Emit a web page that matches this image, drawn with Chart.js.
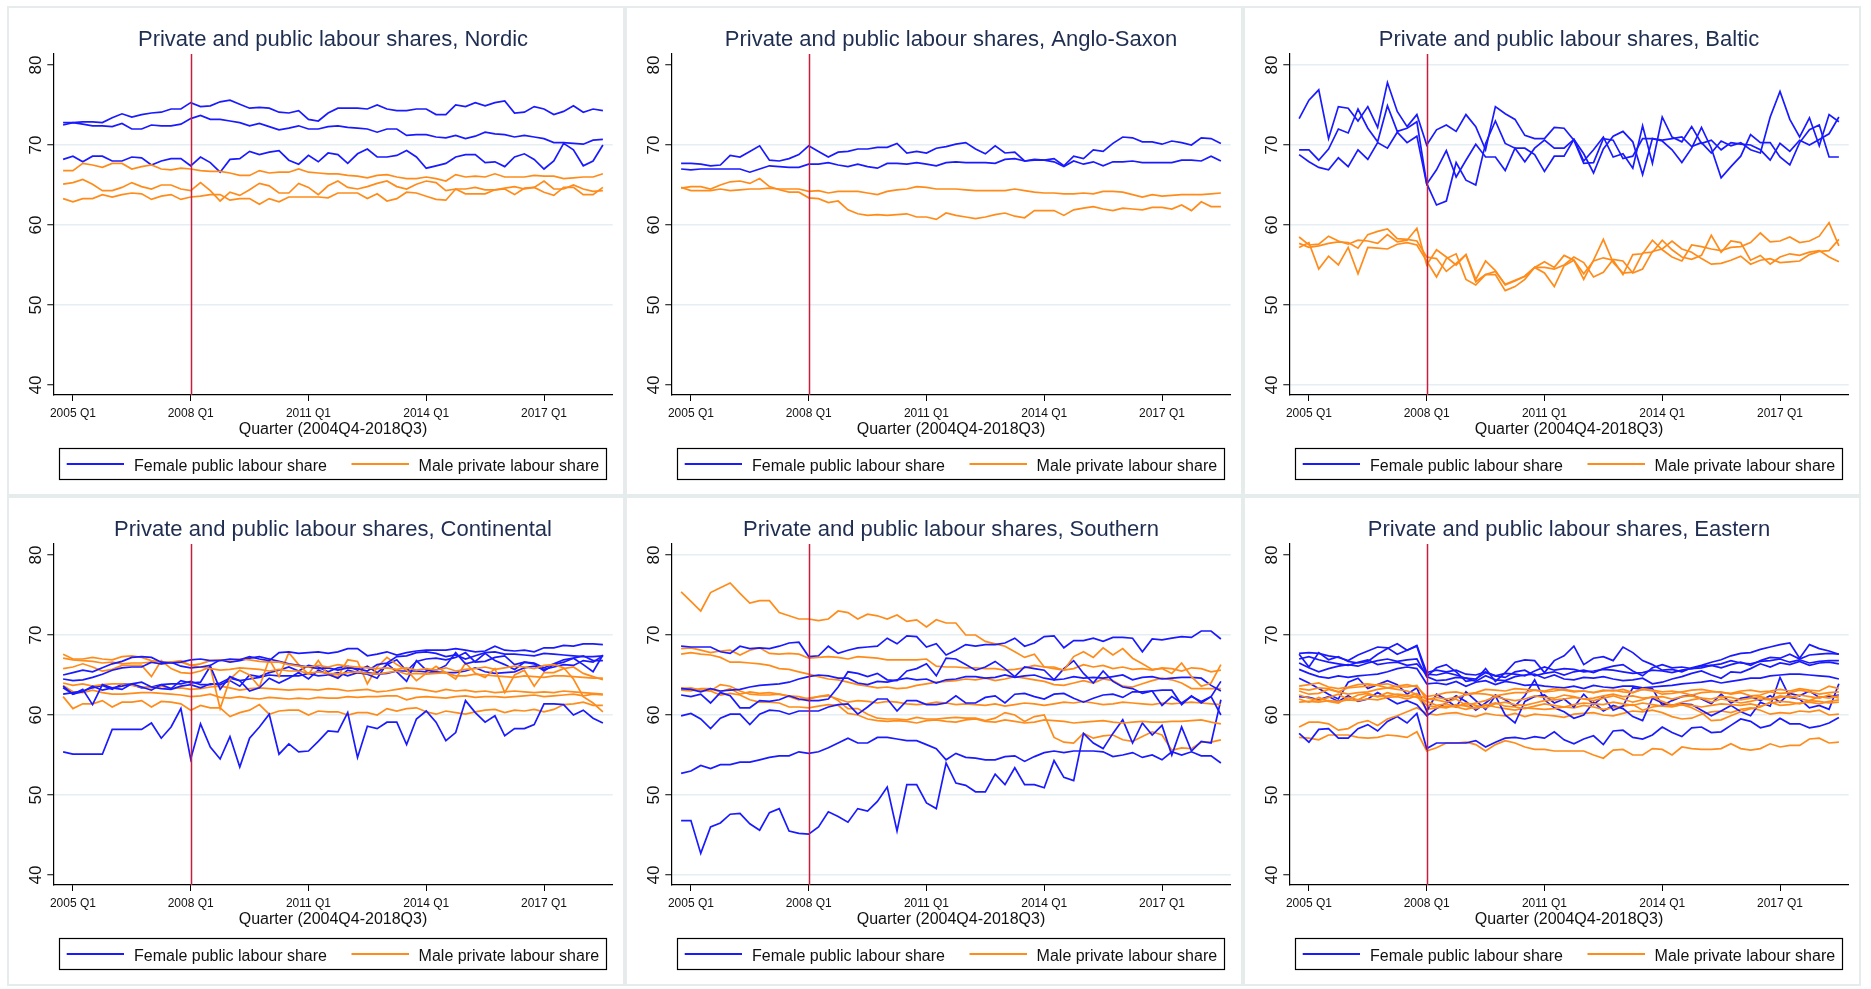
<!DOCTYPE html>
<html>
<head>
<meta charset="utf-8">
<script src="https://cdn.jsdelivr.net/npm/chart.js@4.4.0/dist/chart.umd.min.js"></script>
<style>
  html, body { margin: 0; padding: 0; background: #ffffff; }
  body { width: 1871px; height: 989px; position: relative; overflow: hidden; }
  canvas { position: absolute; }
</style>
</head>
<body>
<canvas id="p0" width="618" height="490" style="left:7px;top:6px"></canvas>
<canvas id="p1" width="618" height="490" style="left:625px;top:6px"></canvas>
<canvas id="p2" width="618" height="490" style="left:1243px;top:6px"></canvas>
<canvas id="p3" width="618" height="490" style="left:7px;top:496px"></canvas>
<canvas id="p4" width="618" height="490" style="left:625px;top:496px"></canvas>
<canvas id="p5" width="618" height="490" style="left:1243px;top:496px"></canvas>
<script>
// Quarter index 0 = 2004Q4 ... 55 = 2018Q3
const xTickQuarters = [1, 13, 25, 37, 49];
const xTickLabels = ['2005 Q1', '2008 Q1', '2011 Q1', '2014 Q1', '2017 Q1'];
const yTicks = [40, 50, 60, 70, 80];
const crisisQuarter = 13; // 2008 Q1
const xAxisTitle = 'Quarter (2004Q4-2018Q3)';
const legendLabels = ['Female public labour share', 'Male private labour share'];

// ---- Nordic ----
const nordicF1 = [72.8,72.8,72.9,72.9,72.8,73.4,73.9,73.5,73.8,74.0,74.1,74.5,74.5,75.3,74.8,74.9,75.4,75.6,75.1,74.6,74.7,74.6,74.1,74.0,74.3,73.2,73.0,74.0,74.6,74.6,74.6,74.5,75.0,74.5,74.3,74.3,74.5,74.5,73.8,73.8,75.0,74.8,75.3,74.9,75.3,75.5,74.0,74.1,74.8,74.5,73.8,74.2,74.9,74.1,74.5,74.3];
const nordicF2 = [72.5,72.8,72.6,72.4,72.4,72.3,72.7,72.0,72.0,72.5,72.4,72.4,72.6,73.3,73.7,73.2,73.2,73.0,72.8,72.4,72.7,72.3,71.9,72.1,72.4,72.0,72.0,72.3,72.4,72.2,72.1,72.0,71.6,72.0,72.0,71.2,71.3,71.3,71.0,70.9,71.2,70.8,71.1,71.6,71.4,71.3,71.0,71.2,71.0,70.8,70.3,70.3,70.2,70.1,70.6,70.7];
const nordicF3 = [68.2,68.6,67.9,68.6,68.6,68.0,68.0,68.5,68.4,67.5,68.0,68.3,68.3,67.4,68.5,67.8,66.6,68.2,68.3,69.2,68.8,69.1,69.3,68.1,67.6,68.7,67.9,69.0,68.8,67.7,68.9,69.5,68.5,68.5,68.7,69.3,68.5,67.1,67.4,67.7,68.5,68.8,68.8,67.8,67.9,67.3,68.5,68.9,68.2,67.0,68.0,70.2,69.4,67.4,68.0,70.0];
const nordicM1 = [66.8,66.8,67.7,67.5,67.2,67.7,67.7,67.0,67.3,67.5,67.0,66.9,67.1,67.0,66.8,66.7,66.7,66.5,66.2,66.2,66.8,66.5,66.6,66.6,67.0,66.6,66.5,66.4,66.4,66.2,66.1,65.9,66.2,66.3,66.0,65.8,65.8,66.0,65.8,65.5,66.3,66.0,66.1,66.0,66.4,66.0,66.0,66.0,66.2,66.1,66.1,65.8,65.9,66.0,66.0,66.4];
const nordicM2 = [65.1,65.3,65.7,65.1,64.3,64.3,64.7,65.3,64.8,64.5,65.0,65.0,64.5,64.3,65.3,64.3,63.0,64.1,63.7,64.4,65.2,64.9,64.0,64.0,65.2,64.7,63.8,64.9,65.5,64.7,64.5,64.8,65.2,65.5,64.8,64.5,65.1,65.5,65.3,64.3,64.5,64.5,64.7,64.4,64.4,64.6,64.8,64.5,64.7,65.5,64.5,64.5,65.0,64.5,64.2,64.3];
const nordicM3 = [63.3,62.9,63.3,63.3,63.8,63.5,63.8,64.0,63.9,63.2,63.6,63.8,63.2,63.5,63.6,63.8,63.8,63.1,63.3,63.3,62.6,63.3,62.9,63.5,63.5,63.5,63.5,63.4,64.0,64.0,64.0,63.3,63.9,63.0,63.3,64.1,64.0,63.6,63.2,63.1,64.5,63.9,63.9,63.9,64.4,64.5,63.8,64.6,64.7,64.1,63.7,64.7,64.7,63.8,63.8,64.7];

// ---- Anglo-Saxon ----
const angloF1 = [67.7,67.7,67.6,67.4,67.5,68.7,68.5,69.2,69.9,68.1,68.0,68.3,68.8,69.9,69.2,68.5,69.1,69.2,69.5,69.5,69.7,69.7,70.2,69.0,69.2,69.0,69.6,69.8,70.1,70.3,69.5,68.9,69.9,69.0,69.1,68.0,68.2,68.1,68.3,67.4,68.6,68.3,69.4,69.2,70.2,71.0,70.9,70.4,70.4,70.1,70.5,70.3,70.0,70.9,70.8,70.2];
const angloF2 = [67.0,66.9,67.0,67.0,67.0,67.0,67.0,66.6,67.0,67.4,67.3,67.2,67.2,67.6,67.6,67.8,67.5,67.3,67.6,67.3,67.1,67.7,67.7,67.6,67.8,67.6,67.4,67.8,67.9,67.8,67.8,67.8,67.7,68.2,68.3,68.0,68.1,68.1,67.9,67.3,68.0,67.6,67.9,67.4,67.9,67.9,68.0,67.8,67.8,67.8,67.8,68.1,68.1,68.0,68.6,68.0];
const angloM1 = [64.7,64.3,64.3,64.3,64.5,64.3,64.4,64.5,64.5,64.6,64.5,64.5,64.5,64.2,64.3,64.0,64.2,64.2,64.2,64.0,63.8,64.2,64.4,64.5,64.8,64.7,64.5,64.5,64.5,64.4,64.3,64.3,64.3,64.3,64.5,64.3,64.1,64.0,64.0,63.9,63.9,64.0,63.9,64.2,64.2,64.1,63.8,63.5,63.8,63.6,63.7,63.8,63.8,63.8,63.9,64.0];
const angloM2 = [64.6,64.8,64.8,64.5,65.0,65.4,65.5,65.2,65.8,64.8,64.4,64.1,64.1,63.4,63.3,62.8,63.0,61.9,61.4,61.2,61.3,61.2,61.3,61.4,61.0,61.0,60.7,61.5,61.2,61.0,60.8,61.0,61.3,61.5,61.1,60.9,61.8,61.8,61.8,61.2,61.9,62.1,62.3,62.0,61.8,62.1,62.0,61.9,62.2,62.2,62.0,62.5,61.8,62.9,62.3,62.3];

// ---- Baltic ----
const balticF1 = [73.3,75.6,76.9,70.8,74.8,74.6,73.0,74.8,72.2,77.8,74.2,72.3,73.8,70.0,71.9,72.5,71.7,73.8,72.3,69.4,74.8,73.9,73.2,71.2,70.8,70.8,72.2,72.1,70.6,67.7,67.8,70.8,70.6,68.3,68.6,70.8,70.8,70.6,70.8,71.0,69.8,70.3,69.0,70.5,69.9,70.3,69.4,69.0,73.5,76.7,73.2,71.0,73.4,69.9,73.8,72.9];
const balticF2 = [69.4,69.4,68.1,69.5,72.0,71.5,74.5,72.1,70.4,74.9,71.7,72.1,72.9,65.2,62.5,63.0,67.8,65.6,65.0,70.2,73.0,70.2,69.6,69.6,68.8,66.7,68.6,68.6,70.7,68.9,66.5,69.5,71.1,71.7,70.4,66.3,70.8,70.5,69.4,67.8,69.6,72.2,69.6,65.9,67.3,68.6,71.3,70.3,70.3,68.5,67.5,70.3,71.9,72.5,68.5,68.5];
const balticF3 = [68.8,67.9,67.2,66.9,68.4,67.3,69.4,68.2,70.3,69.6,71.6,70.3,71.1,65.1,66.9,69.3,66.0,68.1,70.1,68.5,68.5,66.8,69.6,67.9,69.6,70.6,69.6,69.6,70.7,68.0,69.4,71.0,68.5,68.9,67.1,72.4,67.7,73.5,71.0,70.4,72.3,70.2,70.6,69.4,70.3,70.1,70.0,69.4,68.1,70.2,69.2,70.6,70.0,70.7,71.4,73.5];
const balticM1 = [58.5,57.5,57.6,58.6,58.0,57.6,58.1,58.0,57.7,58.8,57.9,58.1,59.6,55.0,56.9,56.0,55.0,56.3,53.2,55.5,54.3,52.5,53.0,53.6,54.7,54.7,54.5,55.0,56.0,55.3,53.5,54.1,55.7,55.5,54.0,54.5,56.7,57.0,58.0,57.0,56.6,55.8,55.1,55.2,55.6,56.1,55.1,55.6,55.8,55.3,55.4,55.5,56.3,56.7,56.8,58.2];
const balticM2 = [57.2,57.8,54.5,56.1,55.0,57.2,53.9,57.2,57.1,57.0,57.6,57.8,57.5,55.5,53.5,55.8,56.4,53.2,52.5,53.8,53.8,51.8,52.3,53.2,54.7,54.0,52.3,54.9,55.6,53.2,55.6,58.2,55.3,54.0,54.1,56.5,56.6,58.1,56.9,56.0,55.7,56.2,58.7,56.6,58.0,57.8,55.6,56.2,55.1,56.0,56.4,56.2,56.6,56.8,56.0,55.4];
const balticM3 = [57.7,57.2,57.4,57.7,57.9,57.8,57.1,58.8,59.2,59.5,58.3,58.2,58.0,56.0,55.8,54.2,55.2,56.3,52.9,53.8,54.2,52.6,53.1,53.6,54.7,55.4,54.7,56.2,55.6,53.9,55.5,55.9,55.6,53.8,56.3,56.4,58.1,56.9,56.0,55.5,57.5,57.3,57.0,56.8,57.2,57.3,57.8,59.0,57.9,58.0,58.5,57.8,58.0,58.6,60.3,57.4];

// ---- Continental ----
const contF1 = [65.0,65.3,65.6,65.4,65.9,66.4,66.7,67.2,67.3,67.2,66.6,66.5,66.6,66.9,67.0,66.8,66.8,67.0,66.9,67.3,67.0,66.8,67.8,67.9,67.7,67.8,67.9,67.7,67.9,68.3,68.3,67.4,67.6,67.9,67.5,67.8,68.0,68.1,68.1,68.1,68.3,68.1,67.9,68.0,68.6,68.1,68.0,68.1,67.9,68.4,68.4,68.7,68.6,68.9,68.9,68.8];
const contF2 = [64.5,64.3,64.4,64.7,65.1,65.6,65.9,66.0,66.0,66.6,66.4,66.6,66.1,65.9,66.0,66.2,66.9,66.6,66.8,67.1,67.3,67.0,66.7,66.4,66.2,66.0,65.8,65.9,65.6,65.9,65.8,65.5,66.3,66.5,67.3,67.4,67.8,67.9,67.7,67.3,67.5,67.0,67.4,67.8,67.9,67.6,67.6,67.5,67.4,67.7,67.6,67.5,67.4,67.3,67.3,67.4];
const contF3 = [63.6,62.6,63.2,61.3,63.8,63.4,63.6,63.9,63.5,63.1,63.8,63.3,64.3,64.0,64.1,66.1,63.2,64.8,64.3,63.0,63.4,64.6,64.0,64.6,65.3,64.5,65.6,65.1,64.6,65.6,65.3,65.1,64.6,66.4,65.4,64.2,66.8,65.6,65.6,66.2,67.8,66.4,66.7,67.7,66.8,66.3,65.7,66.6,66.4,65.5,66.3,66.6,67.1,66.3,65.4,67.5];
const contF4 = [63.4,62.6,62.9,63.6,63.1,63.4,63.2,63.9,64.1,63.5,63.3,63.2,63.6,63.8,63.4,63.9,63.8,64.3,63.6,65.0,64.8,65.3,65.6,66.0,65.5,66.2,66.0,65.4,65.9,66.1,65.6,66.1,65.3,66.3,66.9,65.5,66.7,67.0,67.1,66.9,67.2,67.8,66.6,66.7,67.2,67.4,66.3,66.6,66.5,65.9,66.4,66.9,67.1,67.4,66.8,66.8];
const contF5 = [62.6,62.8,63.0,63.4,63.7,63.2,63.9,63.8,63.4,63.5,63.8,63.9,63.9,64.2,63.8,63.8,64.0,64.6,64.3,64.5,64.7,65.0,64.9,64.9,64.9,65.2,64.9,65.0,65.3,64.9,65.3,65.3,65.1,65.2,65.5,65.5,65.5,65.4,65.4,65.3,65.3,65.5,65.9,65.4,65.2,65.3,65.4,65.9,66.1,65.7,66.0,66.3,66.2,66.8,66.6,67.4];
const contF6 = [55.4,55.1,55.1,55.1,55.1,58.2,58.2,58.2,58.2,59.0,57.1,58.5,60.8,54.5,58.9,56.0,54.5,57.3,53.5,57.1,58.5,60.1,55.1,56.4,55.4,55.5,56.7,58.0,57.9,60.3,54.7,58.6,58.3,59.1,59.1,56.3,59.5,60.5,59.1,56.8,57.8,61.8,60.3,59.1,59.9,57.4,58.3,58.3,58.8,61.4,61.4,61.3,60.0,60.6,59.6,59.0];
const contM1 = [67.6,67.0,67.0,67.2,67.0,66.9,67.3,67.4,67.2,66.8,66.6,66.6,66.8,66.2,66.4,66.8,66.9,66.9,67.0,66.9,66.7,66.6,66.6,66.3,66.1,66.0,66.2,66.0,66.3,66.1,66.0,65.9,65.8,65.9,65.7,65.9,65.6,65.8,65.6,65.9,65.5,65.7,65.8,66.0,65.7,65.9,66.1,66.0,65.8,66.2,66.3,65.9,64.5,62.3,61.5,60.4];
const contM2 = [67.1,66.9,66.8,66.7,66.5,66.6,66.4,66.5,66.5,66.6,66.4,66.5,66.6,66.2,66.0,65.8,65.6,65.7,65.9,65.8,65.7,65.5,65.7,65.5,65.5,65.2,65.4,65.2,65.1,65.3,65.4,65.2,65.1,65.3,65.5,65.1,65.2,65.1,65.2,65.3,64.9,64.9,65.1,65.0,64.9,64.8,64.7,64.9,64.8,64.7,64.9,64.9,64.8,64.7,64.6,64.6];
const contM3 = [65.8,66.0,66.4,66.0,65.5,65.7,66.2,66.2,66.2,64.8,66.8,65.8,65.3,65.2,65.5,66.0,60.8,64.5,65.6,65.0,63.5,67.0,64.8,67.8,66.3,65.1,66.8,65.0,64.8,66.9,66.7,63.9,66.0,67.2,66.3,65.6,64.3,65.2,66.1,65.3,64.5,66.5,65.2,64.7,65.8,62.8,65.0,65.6,63.6,65.3,65.3,65.8,66.0,65.2,64.8,64.4];
const contM4 = [64.0,63.7,63.9,63.6,63.8,63.9,63.9,63.7,63.5,63.4,63.6,63.3,63.4,63.2,63.3,63.5,63.6,63.4,63.1,63.3,63.4,63.3,63.2,63.1,63.2,63.2,63.1,63.3,63.2,63.0,63.1,63.2,62.9,63.0,63.2,63.4,63.3,63.1,62.9,63.2,63.0,63.1,62.9,63.0,62.8,62.9,63.0,62.9,62.8,62.9,62.8,63.0,62.9,62.8,62.7,62.6];
const contM5 = [63.7,62.9,62.8,63.1,62.8,62.6,62.6,62.7,62.8,62.8,62.7,62.6,62.5,62.3,62.4,62.6,62.2,62.1,62.3,62.1,62.0,62.2,62.1,62.0,62.1,62.0,62.2,62.1,62.1,62.3,62.2,62.3,62.3,62.4,62.4,61.9,62.2,62.3,62.2,62.1,62.3,62.4,62.2,62.3,62.3,62.2,62.3,62.4,62.5,62.3,62.4,62.5,62.6,62.4,62.6,62.5];
const contM6 = [62.3,60.8,61.4,61.4,61.8,61.0,61.6,61.6,61.8,61.0,61.7,61.6,61.4,60.6,61.2,60.9,60.9,59.8,60.3,60.6,61.3,60.1,60.5,60.6,60.6,60.0,60.5,60.4,60.4,60.0,60.3,60.3,60.0,60.8,60.5,60.8,60.9,60.4,60.1,60.5,60.3,60.1,60.4,60.6,60.7,60.3,60.6,60.5,60.7,60.4,60.7,61.3,61.4,61.6,61.2,61.2];

// ---- Southern ----
const southF1 = [68.6,68.5,68.5,68.5,67.9,67.7,68.6,68.3,68.4,68.3,68.6,69.0,69.1,67.3,67.4,68.6,67.7,68.1,68.4,68.5,68.6,69.6,68.9,69.9,69.8,68.5,68.9,67.5,68.1,68.8,68.6,68.8,68.8,69.0,69.6,68.6,69.0,69.8,69.9,68.4,69.3,69.3,69.6,69.2,69.7,69.7,69.6,67.9,69.5,69.4,69.6,69.8,69.7,70.5,70.5,69.5];
const southF2 = [62.5,62.3,62.6,61.5,62.8,62.4,60.9,60.9,61.8,61.7,61.9,62.4,62.0,61.8,61.8,62.0,63.5,65.4,65.2,64.8,65.2,64.4,64.3,65.5,65.8,66.4,64.9,67.1,67.0,66.3,65.6,66.0,66.7,65.8,64.8,66.0,65.8,65.6,64.4,65.8,66.8,65.2,64.0,65.5,64.2,63.5,63.3,62.7,63.0,63.1,63.1,61.3,62.4,61.5,62.3,64.2];
const southF3 = [63.3,63.2,62.9,63.3,63.0,63.1,63.2,63.5,63.7,63.8,63.9,64.1,64.5,64.8,65.0,64.9,64.6,64.6,64.0,63.8,64.2,64.1,64.4,64.6,64.4,64.5,64.0,64.4,64.5,64.8,64.8,64.6,64.7,65.0,64.7,64.9,65.0,64.6,64.4,64.5,64.8,64.6,64.7,64.6,64.8,65.0,64.4,64.7,64.8,64.5,64.6,64.7,64.7,64.6,63.7,63.0];
const southF4 = [59.9,60.2,59.5,58.3,59.6,60.1,60.1,58.8,60.1,60.6,60.5,60.1,60.5,60.5,60.5,61.0,61.3,61.4,60.1,61.0,62.0,62.0,60.5,61.8,61.8,61.3,61.3,61.5,62.4,61.5,61.5,62.2,62.4,61.5,62.6,62.7,62.3,62.0,62.6,62.7,62.1,61.6,62.1,62.5,62.6,62.2,62.9,62.9,63.0,61.2,62.3,61.5,62.3,61.7,62.3,60.0];
const southF5 = [52.7,53.0,53.7,53.3,53.8,53.8,54.1,54.1,54.4,54.7,54.9,54.9,55.4,55.2,55.4,55.9,56.5,57.1,56.5,56.5,57.2,57.2,57.0,56.8,56.8,56.3,55.8,54.4,55.2,54.7,54.6,54.4,54.4,54.8,54.9,54.2,54.8,55.3,55.5,55.3,55.5,55.5,55.5,55.4,54.8,55.0,55.3,54.7,55.0,54.4,55.4,55.0,55.4,54.9,54.9,54.0];
const southF6 = [46.8,46.8,42.7,46.0,46.5,47.6,47.7,46.4,45.6,47.8,48.3,45.5,45.2,45.1,46.0,47.9,47.3,46.6,48.3,48.0,49.2,51.0,45.5,51.3,51.3,49.0,48.3,54.0,51.5,51.2,50.4,50.4,52.6,51.3,53.4,51.3,51.3,50.9,54.3,52.2,51.8,57.7,56.5,55.8,57.7,59.4,56.5,59.0,57.5,58.7,55.0,58.5,55.5,56.7,56.5,61.9];
const southM1 = [75.4,74.2,73.0,75.3,75.9,76.5,75.2,74.0,74.3,74.3,72.8,72.4,72.0,72.0,71.8,72.0,73.0,72.8,72.0,72.6,72.4,72.0,72.5,71.7,71.9,71.0,71.9,71.5,71.5,70.0,70.0,69.2,68.9,68.6,67.9,67.2,67.6,66.0,66.0,65.6,67.3,67.9,67.2,68.4,67.5,68.3,67.1,66.4,65.7,65.8,65.2,66.5,64.8,63.6,64.0,66.3];
const southM2 = [68.3,68.4,68.1,67.8,68.0,68.1,67.5,68.1,68.4,67.7,67.6,67.7,67.6,67.1,67.2,67.3,67.2,67.0,67.3,67.2,67.1,66.9,66.9,66.9,66.9,67.0,66.1,66.0,66.0,65.9,65.9,65.8,65.8,65.6,65.7,65.9,66.2,66.0,65.8,65.6,65.8,66.3,66.0,66.2,65.8,66.0,65.7,65.8,65.6,65.9,65.8,65.5,65.9,65.8,65.4,65.6];
const southM3 = [67.6,67.8,67.6,67.5,67.2,66.6,66.6,66.5,66.4,66.2,65.8,65.7,65.4,65.1,64.8,64.5,64.4,64.1,63.8,63.6,63.4,63.5,63.3,63.4,63.7,63.9,64.1,64.2,64.3,64.5,64.4,64.6,64.3,64.5,64.8,64.6,64.4,64.2,63.8,63.7,64.0,64.3,64.0,64.5,64.3,63.6,63.5,63.9,64.3,64.6,64.4,64.0,63.3,63.3,63.3,63.3];
const southM4 = [63.2,63.4,63.1,63.0,63.8,63.6,63.0,62.6,62.5,62.5,62.6,62.3,61.9,62.1,62.3,62.4,62.0,61.6,61.8,61.7,61.5,61.7,61.6,61.4,61.3,61.4,61.6,61.5,61.3,61.4,61.3,61.2,61.4,61.1,61.3,61.5,61.4,61.2,61.4,61.6,61.5,61.7,61.5,61.3,61.4,61.6,61.5,61.4,61.3,61.5,61.4,61.5,61.6,61.5,61.4,61.3];
const southM5 = [63.4,63.3,63.1,63.0,62.5,62.7,62.5,61.9,61.6,61.6,61.5,61.0,61.0,60.9,61.1,61.3,61.2,60.2,60.0,59.5,59.3,59.2,59.3,59.2,59.0,59.3,59.4,59.2,59.1,59.4,59.5,59.2,59.1,59.4,59.2,59.0,59.1,59.4,59.3,59.2,59.0,59.1,59.2,59.3,59.1,59.0,59.1,59.2,59.1,59.1,59.2,59.2,59.3,59.4,59.1,58.9];
const southM6 = [63.1,63.0,63.3,63.3,62.9,63.3,62.6,62.9,62.7,62.8,62.6,62.4,62.3,62.0,62.3,62.5,61.8,60.8,60.8,60.1,59.6,59.5,59.5,59.4,59.7,59.5,59.5,59.6,59.7,59.6,59.6,59.3,59.6,60.3,60.0,59.2,59.8,60.0,57.2,56.6,56.5,57.7,57.1,57.4,57.5,56.9,56.7,57.3,57.9,57.5,55.6,55.9,55.8,56.6,56.6,56.9];

// ---- Eastern ----
const eastF1 = [67.7,67.8,67.7,67.4,67.2,66.8,67.5,68.0,68.5,68.4,67.6,68.1,68.7,65.3,65.6,65.4,65.6,65.1,65.0,65.4,64.9,65.2,65.1,64.9,65.5,66.0,65.6,65.8,65.7,65.4,65.5,65.7,65.6,65.4,65.2,65.3,65.6,65.5,65.3,65.6,65.8,66.1,66.2,65.9,66.3,66.6,66.2,66.8,67.2,67.1,67.6,67.0,67.5,67.6,67.7,67.6];
const eastF2 = [67.6,66.0,67.8,66.9,67.3,66.7,66.5,66.7,67.6,68.3,68.9,68.1,68.6,64.8,65.9,66.3,65.4,64.2,64.4,65.8,64.2,65.3,66.6,66.9,66.8,65.3,66.8,67.4,68.6,66.3,67.1,67.3,66.8,68.5,67.8,66.8,66.3,65.6,65.7,65.4,65.9,66.2,66.6,66.9,67.4,67.7,67.8,68.2,68.5,68.8,69.0,67.1,68.8,68.3,68.0,67.6];
const eastF3 = [67.0,67.3,66.9,66.6,66.4,66.2,66.6,66.9,66.3,66.5,66.6,66.2,66.4,65.1,65.0,65.3,65.0,64.6,64.5,65.3,64.9,64.7,65.4,65.6,64.9,65.2,65.4,65.0,65.4,65.6,65.3,65.8,66.1,66.3,65.5,64.9,65.9,66.3,65.9,66.0,65.8,65.9,66.2,66.4,66.8,66.5,66.4,66.7,66.8,67.0,66.6,66.9,66.5,66.7,66.8,66.8];
const eastF4 = [66.5,65.9,65.4,65.8,66.1,66.3,66.1,66.5,66.8,67.0,66.7,66.9,67.0,64.8,64.3,64.4,64.7,64.6,64.2,64.9,64.4,64.3,64.8,65.0,65.1,64.6,65.0,64.5,64.4,64.7,64.6,64.8,64.5,64.3,64.4,64.6,63.9,64.1,64.5,64.8,65.2,65.5,65.0,64.6,65.4,65.3,65.8,66.4,66.0,66.5,66.3,66.7,66.2,66.5,66.6,66.4];
const eastF5 = [65.7,65.2,64.8,64.6,64.9,64.7,64.9,65.0,65.1,65.4,65.8,66.0,65.8,63.9,64.0,63.8,64.2,63.6,64.1,64.3,63.8,64.2,64.0,63.7,63.8,63.6,63.5,63.4,63.6,63.3,63.7,63.5,63.4,63.6,63.6,63.4,63.5,63.6,63.7,63.9,64.0,64.1,64.3,64.0,64.2,64.4,64.6,64.6,64.9,65.0,65.1,65.1,65.0,64.9,64.8,64.5];
const eastF6 = [64.6,64.0,63.3,62.6,62.0,64.1,64.6,63.3,63.8,64.3,63.8,62.6,63.4,60.5,62.6,61.9,61.0,62.9,61.8,60.7,62.4,60.0,59.0,61.7,62.3,62.5,61.5,62.0,61.0,62.6,61.3,62.3,60.6,61.1,63.4,63.2,63.3,61.2,61.8,62.3,62.5,62.0,61.4,62.6,61.5,62.1,62.3,61.8,62.4,61.6,62.7,62.4,63.0,62.2,62.3,62.5];
const eastF7 = [62.3,62.2,61.9,62.3,61.7,62.4,61.7,62.0,62.8,62.1,61.4,61.8,61.3,59.9,60.8,61.5,62.4,61.7,60.6,61.5,62.5,61.9,61.1,62.4,64.4,61.9,60.9,60.4,59.6,60.0,61.6,60.5,61.2,60.8,59.8,59.3,62.1,61.5,61.2,61.4,61.3,60.6,59.9,60.5,61.2,60.4,59.9,61.6,61.1,64.7,62.2,62.0,60.9,61.2,60.7,63.9];
const eastF8 = [57.7,56.6,58.2,58.3,57.1,57.1,58.3,58.8,58.0,59.2,59.8,59.0,60.2,55.8,56.5,56.5,56.5,56.5,56.8,56.0,56.6,57.1,57.2,57.0,57.3,57.1,57.9,56.9,56.4,57.0,57.4,56.3,58.0,58.1,57.2,57.0,57.5,58.5,57.8,57.3,58.4,58.5,57.8,57.9,58.7,59.5,59.2,58.4,58.7,59.6,58.9,58.9,58.4,58.6,59.0,59.7];
const eastM1 = [63.6,63.8,64.0,63.5,63.3,63.5,63.8,63.9,63.7,63.4,63.6,63.8,63.5,62.3,62.5,62.8,62.9,62.6,62.8,63.2,63.1,63.0,63.3,63.2,63.1,63.0,63.3,63.1,62.9,63.0,62.8,63.0,63.1,62.9,62.8,63.2,63.0,62.6,62.7,62.9,63.1,63.2,63.0,62.8,62.7,63.0,63.1,62.9,63.0,63.2,63.0,63.3,63.1,63.0,63.6,63.3];
const eastM2 = [63.3,63.1,63.4,63.3,62.9,63.4,63.5,63.6,63.8,63.9,63.5,63.5,63.7,61.9,62.2,62.0,62.2,62.5,62.7,62.6,62.4,62.6,62.8,62.8,63.1,62.9,63.0,63.2,63.0,63.0,62.8,63.1,63.0,63.2,62.8,63.3,63.1,62.9,63.0,62.8,62.5,62.8,62.9,62.9,62.6,62.8,62.4,62.5,62.9,62.7,62.8,63.1,62.9,62.6,62.8,62.9];
const eastM3 = [63.0,62.6,62.7,63.2,62.9,62.6,62.8,62.9,63.2,63.4,63.2,63.0,62.6,62.0,61.9,61.6,62.0,61.2,61.5,61.8,62.3,62.0,61.8,62.0,62.4,62.2,62.1,62.5,62.3,62.0,62.1,62.4,62.6,62.3,62.4,62.1,62.2,62.3,62.0,62.3,62.4,62.1,62.0,62.3,62.2,61.9,62.1,62.3,62.0,62.4,62.2,62.5,62.3,62.1,62.5,62.1];
const eastM4 = [62.5,62.1,61.8,62.2,62.6,61.9,62.5,62.7,62.3,62.4,62.6,62.5,62.2,61.7,61.2,61.4,61.0,61.5,61.2,60.9,61.4,61.6,61.3,61.2,61.5,61.8,61.9,62.0,62.2,62.0,61.8,62.1,62.4,62.0,61.6,61.9,62.3,61.7,61.2,61.6,61.9,62.1,61.6,62.0,61.8,61.5,61.7,62.0,61.9,62.2,62.4,62.0,61.8,62.3,62.1,62.4];
const eastM5 = [62.0,61.6,62.2,61.7,61.5,62.2,61.9,62.5,62.3,62.8,62.5,62.3,62.7,61.2,61.0,60.9,61.3,61.1,60.8,61.2,61.5,61.1,61.0,60.8,61.1,61.4,61.2,61.0,61.3,61.5,61.4,61.3,61.6,61.4,61.2,61.5,61.3,61.1,61.0,61.3,61.2,61.0,61.2,61.4,61.3,61.2,61.4,61.1,61.5,61.7,61.6,61.4,61.8,61.7,61.5,61.6];
const eastM6 = [61.6,61.7,61.6,61.8,61.7,61.9,61.8,62.0,61.9,62.2,62.3,62.0,62.4,60.7,60.9,61.1,61.0,60.7,61.0,61.3,61.0,60.8,60.6,60.9,60.8,60.7,60.8,61.0,60.9,61.2,61.0,60.7,60.9,61.1,61.3,60.6,61.0,61.2,61.1,61.3,60.9,60.3,59.3,59.4,59.9,60.4,60.8,61.0,61.6,61.2,61.3,61.5,61.6,61.4,61.7,61.9];
const eastM7 = [58.5,59.1,59.1,58.9,58.1,58.3,59.0,59.3,58.7,59.5,59.9,60.4,60.9,60.2,60.0,60.2,60.3,60.0,59.8,60.2,60.0,59.9,60.2,59.8,60.1,60.0,59.9,59.7,60.1,60.2,60.3,60.0,59.9,60.2,60.5,60.4,60.6,60.3,59.8,59.5,59.6,60.1,60.4,60.5,60.3,60.7,60.9,60.6,60.1,60.3,60.2,60.5,60.4,60.6,60.0,60.1];
const eastM8 = [57.2,57.1,56.9,57.5,57.5,57.5,57.2,57.1,57.2,57.5,57.4,57.2,57.9,55.5,55.9,56.5,56.5,56.6,56.3,55.5,56.3,56.8,56.5,56.0,55.7,55.7,55.5,55.5,55.5,55.5,55.0,54.6,55.6,55.7,55.0,55.0,55.8,55.7,55.0,56.0,55.8,55.7,55.7,55.8,56.4,55.8,55.6,55.8,56.4,56.0,56.2,56.2,57.0,57.1,56.5,56.6];

const FONT = "'Liberation Sans', Arial, Helvetica, sans-serif";
const BLUE = '#1a1aff';
const ORANGE = '#ff8c1a';
const RED = '#c81e3c';
const GRID = '#e5eef2';
const TITLE_COLOR = '#1e2d50';

const panels = [
  { id: 'p0', region: 'Nordic',      female: [nordicF1, nordicF2, nordicF3], male: [nordicM1, nordicM2, nordicM3], outerGrid: false },
  { id: 'p1', region: 'Anglo-Saxon', female: [angloF1, angloF2], male: [angloM1, angloM2], outerGrid: false },
  { id: 'p2', region: 'Baltic',      female: [balticF1, balticF2, balticF3], male: [balticM1, balticM2, balticM3], outerGrid: true },
  { id: 'p3', region: 'Continental', female: [contF1, contF2, contF3, contF4, contF5, contF6], male: [contM1, contM2, contM3, contM4, contM5, contM6], outerGrid: false },
  { id: 'p4', region: 'Southern',    female: [southF1, southF2, southF3, southF4, southF5, southF6], male: [southM1, southM2, southM3, southM4, southM5, southM6], outerGrid: true },
  { id: 'p5', region: 'Eastern',     female: [eastF1, eastF2, eastF3, eastF4, eastF5, eastF6, eastF7, eastF8], male: [eastM1, eastM2, eastM3, eastM4, eastM5, eastM6, eastM7, eastM8], outerGrid: false }
];

const toPoints = arr => arr.map((v, i) => ({ x: i, y: v }));

function lineSet(values, color) {
  return {
    data: toPoints(values),
    borderColor: color,
    borderWidth: 1.7,
    pointRadius: 0,
    tension: 0,
    fill: false
  };
}

// Frame, break line, title, axis title and legend for each panel
const panelDecor = {
  id: 'panelDecor',
  beforeDraw(chart) {
    const { ctx, width, height } = chart;
    ctx.save();
    ctx.fillStyle = '#ffffff';
    ctx.fillRect(0, 0, width, height);
    ctx.strokeStyle = '#e6ecec';
    ctx.lineWidth = 2;
    ctx.strokeRect(1, 1, width - 2, height - 2);
    ctx.restore();
  },
  afterDatasetsDraw(chart) {
    const { ctx, chartArea, scales } = chart;
    const x = Math.round(scales.x.getPixelForValue(crisisQuarter)) + 0.5;
    ctx.save();
    ctx.strokeStyle = RED;
    ctx.lineWidth = 1.5;
    ctx.beginPath();
    ctx.moveTo(x, chartArea.top);
    ctx.lineTo(x, chartArea.bottom);
    ctx.stroke();
    ctx.restore();
  },
  afterDraw(chart, args, opts) {
    const { ctx, chartArea } = chart;
    const cx = (chartArea.left + chartArea.right) / 2;
    ctx.save();
    ctx.textAlign = 'center';
    ctx.textBaseline = 'alphabetic';
    ctx.fillStyle = TITLE_COLOR;
    ctx.font = `22px ${FONT}`;
    ctx.fillText(opts.title, cx, 40);

    ctx.fillStyle = '#111111';
    ctx.font = `16px ${FONT}`;
    ctx.fillText(xAxisTitle, cx, 428);

    // legend box
    const lx = 52.5, ly = 442.5, lw = 547, lh = 31;
    ctx.strokeStyle = '#000000';
    ctx.lineWidth = 1.2;
    ctx.strokeRect(lx, ly, lw, lh);
    const my = ly + lh / 2;
    ctx.lineWidth = 2;
    ctx.strokeStyle = BLUE;
    ctx.beginPath(); ctx.moveTo(59.7, my); ctx.lineTo(117, my); ctx.stroke();
    ctx.strokeStyle = ORANGE;
    ctx.beginPath(); ctx.moveTo(344.5, my); ctx.lineTo(402, my); ctx.stroke();
    ctx.textAlign = 'left';
    ctx.fillStyle = '#111111';
    ctx.font = `16px ${FONT}`;
    ctx.fillText(legendLabels[0], 127, 465);
    ctx.fillText(legendLabels[1], 411.6, 465);
    ctx.restore();
  }
};

Chart.defaults.font.family = FONT;

panels.forEach(p => {
  const datasets = [];
  const n = Math.max(p.female.length, p.male.length);
  for (let k = 0; k < n; k++) {
    if (p.female[k]) datasets.push(lineSet(p.female[k], BLUE));
    if (p.male[k]) datasets.push(lineSet(p.male[k], ORANGE));
  }
  new Chart(document.getElementById(p.id), {
    type: 'line',
    data: { datasets },
    plugins: [panelDecor],
    options: {
      responsive: false,
      animation: false,
      devicePixelRatio: 1,
      events: [],
      layout: { padding: { top: 48, right: 12.3, bottom: 61, left: 0 } },
      plugins: {
        legend: { display: false },
        tooltip: { enabled: false },
        title: { display: false },
        panelDecor: { title: 'Private and public labour shares, ' + p.region }
      },
      scales: {
        x: {
          type: 'linear',
          min: -1,
          max: 56,
          afterBuildTicks: s => { s.ticks = xTickQuarters.map(v => ({ value: v })); },
          afterFit: s => { s.height = 40; },
          ticks: {
            autoSkip: false,
            maxRotation: 0,
            minRotation: 0,
            padding: 5,
            color: '#111111',
            font: { size: 12, family: FONT },
            callback: v => xTickLabels[xTickQuarters.indexOf(v)]
          },
          grid: { drawOnChartArea: false, tickLength: 6, tickColor: '#000000', tickWidth: 1 },
          border: { color: '#000000', width: 1.2 }
        },
        y: {
          type: 'linear',
          min: 38.75,
          max: 81.375,
          afterBuildTicks: s => { s.ticks = yTicks.map(v => ({ value: v })); },
          afterFit: s => { s.width = 46.3; },
          ticks: {
            minRotation: 90,
            maxRotation: 90,
            crossAlign: 'center',
            padding: 2,
            color: '#111111',
            font: { size: 17, family: FONT },
            callback: v => String(v)
          },
          grid: {
            color: c => {
              const v = c.tick ? c.tick.value : null;
              if ((v === 40 || v === 80) && !p.outerGrid) return 'rgba(0,0,0,0)';
              return GRID;
            },
            lineWidth: 1.5,
            tickLength: 6,
            tickColor: '#000000',
            tickWidth: 1
          },
          border: { color: '#000000', width: 1.2 }
        }
      }
    }
  });
});
</script>
</body>
</html>
